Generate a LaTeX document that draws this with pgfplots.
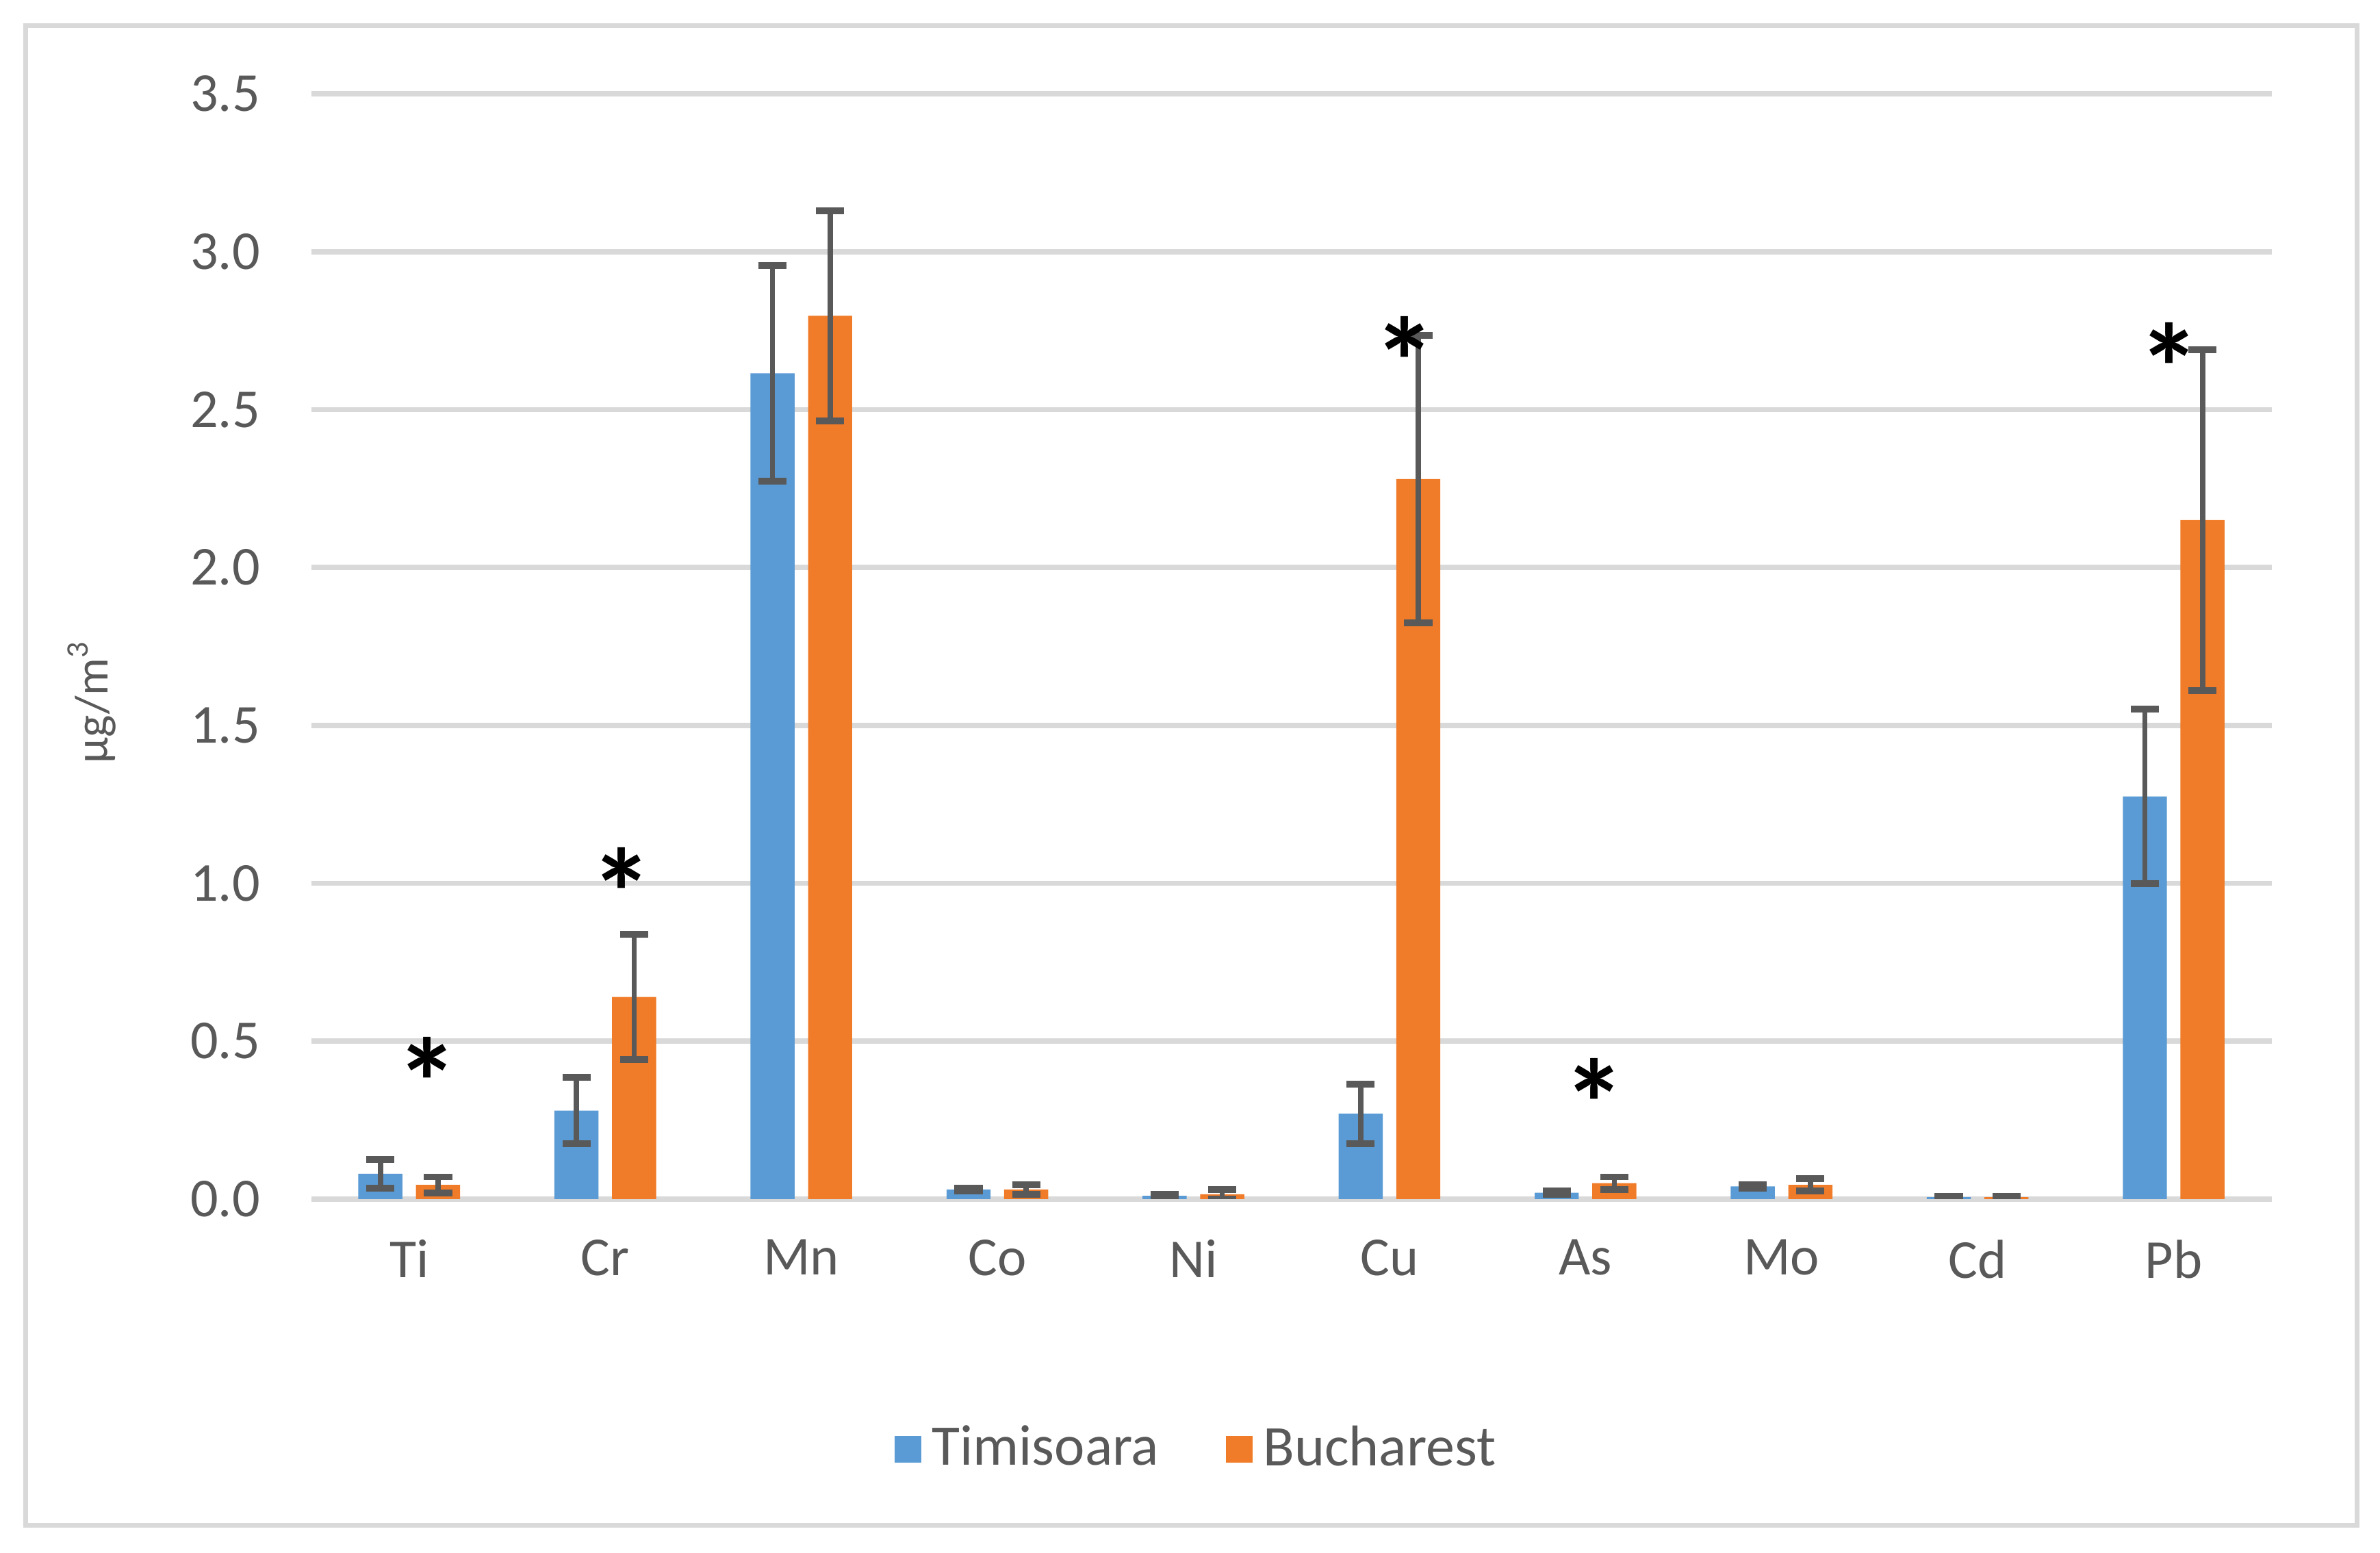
\documentclass[border=0pt]{standalone}
\usepackage{fontspec}
\setmainfont{Carlito}
\usepackage{pgfplots}
\pgfplotsset{compat=1.18}
\definecolor{tim}{HTML}{5B9BD5}
\definecolor{buc}{HTML}{F07B28}
\definecolor{txt}{HTML}{595959}
\definecolor{grd}{HTML}{D9D9D9}
\definecolor{errc}{HTML}{595959}
\begin{document}
\begin{tikzpicture}
\useasboundingbox (-2.092,-2.378) rectangle (13.908,8.061);
\draw[color=grd, line width=0.9pt] (-1.918,-2.194) rectangle (13.755,7.888);
\begin{axis}[
  at={(0,0)}, anchor=south west,
  scale only axis, width=13.18cm, height=7.43cm,
  ybar, bar width=0.225,
  xmin=-0.5, xmax=9.5, ymin=0, ymax=3.5,
  xtick={0,...,9},
  xticklabels={Ti,Cr,Mn,Co,Ni,Cu,As,Mo,Cd,Pb},
  ytick={0,0.5,...,3.5},
  yticklabel style={/pgf/number format/fixed, /pgf/number format/fixed zerofill, /pgf/number format/precision=1, /pgf/number format/assume math mode=true, xshift=-0.22cm},
  tick label style={font=\fontsize{10.5}{12}\selectfont, text=txt},
  xticklabel style={yshift=-0.15cm},
  major tick length=0pt,
  axis line style={draw=none},
  ymajorgrids, grid style={color=grd, line width=1pt},
  ylabel={µg/m\textsuperscript{3}},
  ylabel style={font=\fontsize{9}{11}\selectfont, text=txt, at={(axis description cs:-0.112,0.45)}, anchor=center, rotate=0},
  legend style={at={(axis description cs:0.4536,-0.2266)}, anchor=center, draw=none, legend columns=2, font=\fontsize{11}{13}\selectfont, text=txt, /tikz/every even column/.append style={column sep=0.38cm}},
  legend image code/.code={\fill[#1] (0cm,-0.09cm) rectangle (0.18cm,0.09cm);},
]
\addplot[fill=tim, draw=none, bar shift=-0.147,
  error bars/.cd, y dir=both, y explicit,
  error bar style={color=errc, line width=1pt},
  error mark options={rotate=90, color=errc, mark size=2.7pt, line width=1.3pt}]
coordinates {
 (0,0.080) +- (0,0.045)
 (1,0.280) +- (0,0.105)
 (2,2.615) +- (0,0.342)
 (3,0.030) +- (0,0.005)
 (4,0.010) +- (0,0.005)
 (5,0.270) +- (0,0.094)
 (6,0.020) +- (0,0.005)
 (7,0.040) +- (0,0.005)
 (8,0.006) +- (0,0.003)
 (9,1.275) +- (0,0.276)
};
\addplot[fill=buc, draw=none, bar shift=0.147,
  error bars/.cd, y dir=both, y explicit,
  error bar style={color=errc, line width=1pt},
  error mark options={rotate=90, color=errc, mark size=2.7pt, line width=1.3pt}]
coordinates {
 (0,0.045) +- (0,0.025)
 (1,0.640) +- (0,0.198)
 (2,2.797) +- (0,0.332)
 (3,0.030) +- (0,0.015)
 (4,0.015) +- (0,0.015)
 (5,2.280) +- (0,0.455)
 (6,0.050) +- (0,0.020)
 (7,0.045) +- (0,0.020)
 (8,0.006) +- (0,0.003)
 (9,2.150) +- (0,0.540)
};
\legend{Timisoara, Bucharest}
\node[font=\fontsize{24}{24}\selectfont\bfseries, inner sep=0pt] at (axis cs:0.093,0.37) {*};
\node[font=\fontsize{24}{24}\selectfont\bfseries, inner sep=0pt] at (axis cs:1.085,0.971) {*};
\node[font=\fontsize{24}{24}\selectfont\bfseries, inner sep=0pt] at (axis cs:5.077,2.653) {*};
\node[font=\fontsize{24}{24}\selectfont\bfseries, inner sep=0pt] at (axis cs:6.046,0.303) {*};
\node[font=\fontsize{24}{24}\selectfont\bfseries, inner sep=0pt] at (axis cs:8.977,2.633) {*};
\end{axis}
\end{tikzpicture}
\end{document}
